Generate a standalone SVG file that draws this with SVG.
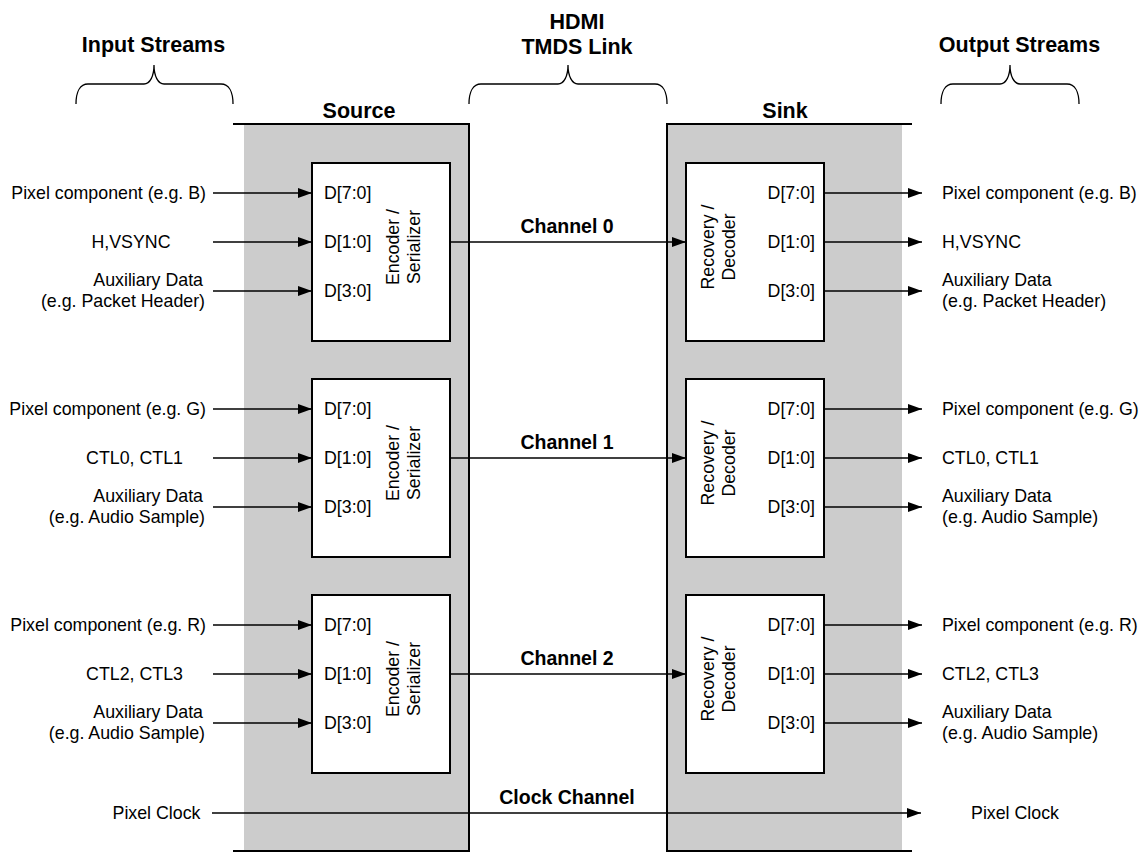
<svg xmlns="http://www.w3.org/2000/svg" width="1143" height="853" viewBox="0 0 1143 853">
<style>
.t{font-family:"Liberation Sans",Arial,sans-serif;font-size:17.8px;fill:#000}
.b{font-family:"Liberation Sans",Arial,sans-serif;font-size:21.5px;font-weight:bold;fill:#000}
.c{font-family:"Liberation Sans",Arial,sans-serif;font-size:19.5px;font-weight:bold;fill:#000}
.e{text-anchor:end}.m{text-anchor:middle}
.ln{stroke:#000;stroke-width:1.3;fill:none}
.ol{stroke:#000;stroke-width:2;fill:none}
.gray{fill:#cccccc;stroke:none}
.box{fill:#fff;stroke:#000;stroke-width:2}
.br{stroke:#000;stroke-width:1.3;fill:none}
</style>
<defs>
<marker id="ah" markerUnits="userSpaceOnUse" markerWidth="15" markerHeight="11" refX="14" refY="5" orient="auto">
<path d="M0,0 L14,5 L0,10 z" fill="#000"/>
</marker>
</defs>

<g id="titles">
<text class="b m" x="153.5" y="52">Input Streams</text>
<text class="b m" x="577" y="29">HDMI</text>
<text class="b m" x="577" y="54">TMDS Link</text>
<text class="b m" x="1019.5" y="52">Output Streams</text>
<path class="br" d="M76,104 C76,92 80,84 88,84 L144,84 C150,84 154,76 154,65 C154,76 158,84 164,84 L221,84 C229,84 233,92 233,104"/>
<path class="br" d="M469,104 C469,92 473,84 481,84 L558,84 C564,84 568,76 568,65 C568,76 572,84 578,84 L655,84 C663,84 667,92 667,104"/>
<path class="br" d="M941,104 C941,92 945,84 953,84 L1000,84 C1006,84 1010,76 1010,65 C1010,76 1014,84 1020,84 L1067,84 C1075,84 1079,92 1079,104"/>
</g>

<g id="source">
<rect class="gray" x="244" y="124" width="225" height="727"/>
<path class="ol" d="M233,124 H469 V851 H233"/>
<text class="b m" x="359" y="118">Source</text>
</g>

<g id="sink">
<rect class="gray" x="667" y="124" width="235" height="727"/>
<path class="ol" d="M912,124 H667 V851 H912"/>
<text class="b m" x="785" y="118">Sink</text>
</g>

<g id="encoder0">
<rect class="box" x="312" y="163" width="138" height="178"/>
<text class="t" x="324" y="199">D[7:0]</text>
<text class="t" x="324" y="248">D[1:0]</text>
<text class="t" x="324" y="297">D[3:0]</text>
<text class="t m" transform="translate(399,247) rotate(-90)">Encoder /</text>
<text class="t m" transform="translate(420,247) rotate(-90)">Serializer</text>
</g>
<g id="encoder1">
<rect class="box" x="312" y="379" width="138" height="178"/>
<text class="t" x="324" y="415">D[7:0]</text>
<text class="t" x="324" y="464">D[1:0]</text>
<text class="t" x="324" y="513">D[3:0]</text>
<text class="t m" transform="translate(399,463) rotate(-90)">Encoder /</text>
<text class="t m" transform="translate(420,463) rotate(-90)">Serializer</text>
</g>
<g id="encoder2">
<rect class="box" x="312" y="595" width="138" height="178"/>
<text class="t" x="324" y="631">D[7:0]</text>
<text class="t" x="324" y="680">D[1:0]</text>
<text class="t" x="324" y="729">D[3:0]</text>
<text class="t m" transform="translate(399,679) rotate(-90)">Encoder /</text>
<text class="t m" transform="translate(420,679) rotate(-90)">Serializer</text>
</g>

<g id="decoder0">
<rect class="box" x="686" y="163" width="138" height="178"/>
<text class="t e" x="815" y="199">D[7:0]</text>
<text class="t e" x="815" y="248">D[1:0]</text>
<text class="t e" x="815" y="297">D[3:0]</text>
<text class="t m" transform="translate(714,247) rotate(-90)">Recovery /</text>
<text class="t m" transform="translate(735,247) rotate(-90)">Decoder</text>
</g>
<g id="decoder1">
<rect class="box" x="686" y="379" width="138" height="178"/>
<text class="t e" x="815" y="415">D[7:0]</text>
<text class="t e" x="815" y="464">D[1:0]</text>
<text class="t e" x="815" y="513">D[3:0]</text>
<text class="t m" transform="translate(714,463) rotate(-90)">Recovery /</text>
<text class="t m" transform="translate(735,463) rotate(-90)">Decoder</text>
</g>
<g id="decoder2">
<rect class="box" x="686" y="595" width="138" height="178"/>
<text class="t e" x="815" y="631">D[7:0]</text>
<text class="t e" x="815" y="680">D[1:0]</text>
<text class="t e" x="815" y="729">D[3:0]</text>
<text class="t m" transform="translate(714,679) rotate(-90)">Recovery /</text>
<text class="t m" transform="translate(735,679) rotate(-90)">Decoder</text>
</g>

<g id="inputs">
<text class="t e" x="206" y="199">Pixel component (e.g. B)</text>
<text class="t m" x="131" y="248">H,VSYNC</text>
<text class="t e" x="203" y="286">Auxiliary Data</text>
<text class="t e" x="205" y="307">(e.g. Packet Header)</text>
<text class="t e" x="206" y="415">Pixel component (e.g. G)</text>
<text class="t m" x="134.5" y="464">CTL0, CTL1</text>
<text class="t e" x="203" y="502">Auxiliary Data</text>
<text class="t e" x="205" y="523">(e.g. Audio Sample)</text>
<text class="t e" x="206" y="631">Pixel component (e.g. R)</text>
<text class="t m" x="134.5" y="680">CTL2, CTL3</text>
<text class="t e" x="203" y="718">Auxiliary Data</text>
<text class="t e" x="205" y="739">(e.g. Audio Sample)</text>
<text class="t m" x="156.5" y="819">Pixel Clock</text>
</g>

<g id="outputs">
<text class="t" x="942" y="199">Pixel component (e.g. B)</text>
<text class="t" x="942" y="248">H,VSYNC</text>
<text class="t" x="942" y="286">Auxiliary Data</text>
<text class="t" x="942" y="307">(e.g. Packet Header)</text>
<text class="t" x="942" y="415">Pixel component (e.g. G)</text>
<text class="t" x="942" y="464">CTL0, CTL1</text>
<text class="t" x="942" y="502">Auxiliary Data</text>
<text class="t" x="942" y="523">(e.g. Audio Sample)</text>
<text class="t" x="942" y="631">Pixel component (e.g. R)</text>
<text class="t" x="942" y="680">CTL2, CTL3</text>
<text class="t" x="942" y="718">Auxiliary Data</text>
<text class="t" x="942" y="739">(e.g. Audio Sample)</text>
<text class="t m" x="1015" y="819">Pixel Clock</text>
</g>

<g id="connectors">
<path class="ln" marker-end="url(#ah)" d="M213,193 H312"/>
<path class="ln" marker-end="url(#ah)" d="M213,242 H312"/>
<path class="ln" marker-end="url(#ah)" d="M213,291 H312"/>
<path class="ln" marker-end="url(#ah)" d="M213,409 H312"/>
<path class="ln" marker-end="url(#ah)" d="M213,458 H312"/>
<path class="ln" marker-end="url(#ah)" d="M213,507 H312"/>
<path class="ln" marker-end="url(#ah)" d="M213,625 H312"/>
<path class="ln" marker-end="url(#ah)" d="M213,674 H312"/>
<path class="ln" marker-end="url(#ah)" d="M213,723 H312"/>
<path class="ln" marker-end="url(#ah)" d="M450,242 H686"/>
<path class="ln" marker-end="url(#ah)" d="M450,458 H686"/>
<path class="ln" marker-end="url(#ah)" d="M450,674 H686"/>
<path class="ln" marker-end="url(#ah)" d="M824,193 H922"/>
<path class="ln" marker-end="url(#ah)" d="M824,242 H922"/>
<path class="ln" marker-end="url(#ah)" d="M824,291 H922"/>
<path class="ln" marker-end="url(#ah)" d="M824,409 H922"/>
<path class="ln" marker-end="url(#ah)" d="M824,458 H922"/>
<path class="ln" marker-end="url(#ah)" d="M824,507 H922"/>
<path class="ln" marker-end="url(#ah)" d="M824,625 H922"/>
<path class="ln" marker-end="url(#ah)" d="M824,674 H922"/>
<path class="ln" marker-end="url(#ah)" d="M824,723 H922"/>
<path class="ln" marker-end="url(#ah)" d="M212,813 H921"/>
<text class="c m" x="567" y="233">Channel 0</text>
<text class="c m" x="567" y="449">Channel 1</text>
<text class="c m" x="567" y="665">Channel 2</text>
<text class="c m" x="567" y="804">Clock Channel</text>
</g>
</svg>
